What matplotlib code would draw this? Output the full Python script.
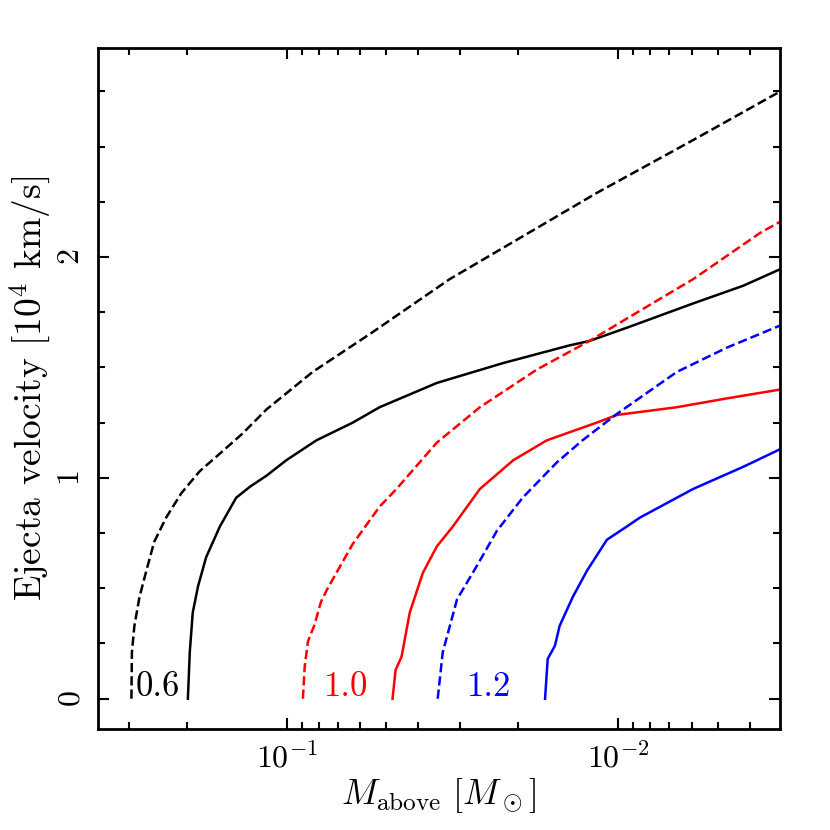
import numpy as np
import matplotlib
matplotlib.use('Agg')
import matplotlib.pyplot as plt
from matplotlib.ticker import MultipleLocator, NullFormatter, LogLocator

plt.rcParams['font.family'] = 'cmr10'
plt.rcParams['mathtext.fontset'] = 'cm'
plt.rcParams['axes.unicode_minus'] = False
plt.rcParams['axes.formatter.use_mathtext'] = True

# white dwarf mass labels
masses = ['0.6', '1.0', '1.2']
colors = ['black', 'red', 'blue']

# M_above [Msun] vs ejecta velocity [1e4 km/s], dashed and solid curves
m06_dash = [0.294, 0.293, 0.288, 0.278, 0.265, 0.251, 0.231, 0.208, 0.183, 0.159,
            0.136, 0.115, 0.0834, 0.0550, 0.0322, 0.0181, 0.0116, 0.00593, 0.00324]
v06_dash = [0.0, 0.21, 0.33, 0.46, 0.58, 0.71, 0.82, 0.93, 1.03, 1.11,
            1.20, 1.31, 1.48, 1.66, 1.90, 2.12, 2.29, 2.53, 2.75]
m06_solid = [0.1986, 0.196, 0.192, 0.185, 0.175, 0.159, 0.142, 0.129, 0.115, 0.1002,
             0.0813, 0.0632, 0.0524, 0.0352, 0.0222, 0.0140, 0.0122, 0.0094, 0.00593,
             0.00419, 0.00324]
v06_solid = [0.0, 0.21, 0.39, 0.51, 0.64, 0.78, 0.91, 0.96, 1.01, 1.08,
             1.17, 1.25, 1.32, 1.43, 1.52, 1.60, 1.62, 1.68, 1.79,
             1.87, 1.945]

m10_dash = [0.0893, 0.0882, 0.0862, 0.0826, 0.0787, 0.0752, 0.0632, 0.0524, 0.0466,
            0.0352, 0.0261, 0.0176, 0.0122, 0.0092, 0.00593, 0.00372, 0.00324]
v10_dash = [0.0, 0.145, 0.26, 0.33, 0.44, 0.50, 0.70, 0.87, 0.95,
            1.16, 1.32, 1.49, 1.62, 1.73, 1.90, 2.11, 2.16]
m10_solid = [0.0479, 0.0469, 0.0450, 0.0425, 0.0388, 0.0352, 0.0315, 0.0261, 0.0207,
             0.0164, 0.0116, 0.01007, 0.00664, 0.00469, 0.00324]
v10_solid = [0.0, 0.13, 0.19, 0.39, 0.57, 0.69, 0.78, 0.95, 1.08,
             1.17, 1.25, 1.285, 1.32, 1.36, 1.40]

m12_dash = [0.0350, 0.0338, 0.0306, 0.0267, 0.0232, 0.0194, 0.0153, 0.0128, 0.01007,
            0.00664, 0.00469, 0.00324]
v12_dash = [0.0, 0.21, 0.45, 0.60, 0.76, 0.91, 1.07, 1.17, 1.29,
            1.48, 1.59, 1.69]
m12_solid = [0.0166, 0.0163, 0.0155, 0.0150, 0.0137, 0.0124, 0.0108, 0.0094, 0.00859,
             0.00593, 0.00419, 0.00324]
v12_solid = [0.0, 0.18, 0.24, 0.33, 0.46, 0.58, 0.72, 0.78, 0.82,
             0.95, 1.05, 1.13]

label_x = [0.244, 0.0663, 0.0244]
label_y = [0.05, 0.05, 0.05]

dash_m = [m06_dash, m10_dash, m12_dash]
dash_v = [v06_dash, v10_dash, v12_dash]
solid_m = [m06_solid, m10_solid, m12_solid]
solid_v = [v06_solid, v10_solid, v12_solid]

fig = plt.figure(figsize=(8.3, 8.3), dpi=100)
ax = fig.add_axes([0.118, 0.122, 0.822, 0.820])

for i in range(3):
    ax.plot(dash_m[i], dash_v[i], '--', color=colors[i], lw=1.8)
    ax.plot(solid_m[i], solid_v[i], '-', color=colors[i], lw=1.8)
    ax.text(label_x[i], label_y[i], masses[i], color=colors[i], fontsize=25,
            ha='center', va='center')

ax.set_xscale('log')
ax.set_xlim(0.371, 0.00324)
ax.set_ylim(-0.136, 2.946)

ax.yaxis.set_major_locator(MultipleLocator(1))
ax.yaxis.set_minor_locator(MultipleLocator(0.25))
ax.xaxis.set_major_locator(LogLocator(base=10))
ax.xaxis.set_minor_locator(LogLocator(base=10, subs=np.arange(2, 10)))
ax.xaxis.set_minor_formatter(NullFormatter())

ax.tick_params(which='both', direction='in', top=True, right=True, width=1.5)
ax.tick_params(which='major', length=8, labelsize=23, pad=9)
ax.tick_params(which='minor', length=5)
for lab in ax.get_yticklabels():
    lab.set_rotation(90)
    lab.set_va('center')

for s in ax.spines.values():
    s.set_linewidth(2)

ax.set_xlabel(r'$M_\mathrm{above}\ [M_\odot]$', fontsize=26, labelpad=2)
ax.set_ylabel(r'Ejecta velocity [10$^4$ km/s]', fontsize=27, labelpad=4)

fig.savefig('out.png', dpi=100)
